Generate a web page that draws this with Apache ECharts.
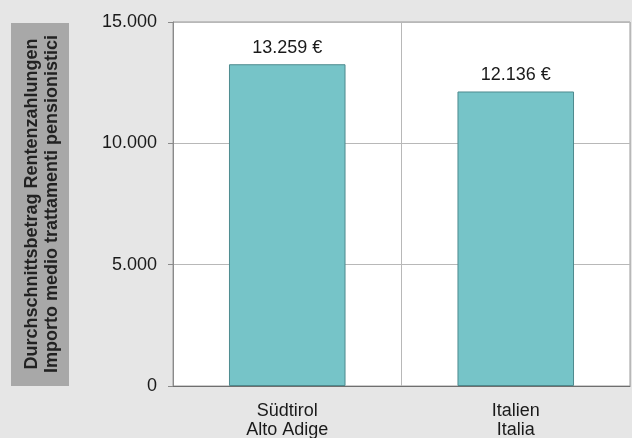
<!DOCTYPE html>
<html><head><meta charset="utf-8">
<script src="https://cdn.jsdelivr.net/npm/echarts@6/dist/echarts.min.js"></script>
<style>html,body{margin:0;padding:0;background:#e6e6e6}#c{width:632px;height:438px}</style>
</head><body><div id="c"></div>
<script>
const categories = ['Südtirol\nAlto Adige', 'Italien\nItalia'];
const values = [13259, 12136];
const yTicks = [0, 5000, 10000, 15000];
const axisTitleLines = ['Durchschnittsbetrag Rentenzahlungen', 'Importo medio trattamenti pensionistici'];

function fmt(v){ return String(v).replace(/\B(?=(\d{3})+(?!\d))/g, '.'); }

const chart = echarts.init(document.getElementById('c'));
chart.setOption({
  backgroundColor: '#e6e6e6',
  textStyle: { fontFamily: 'Liberation Sans, Arial, sans-serif' },
  grid: { left: 173, right: 2, top: 22, bottom: 52, outerBoundsMode: 'none', containLabel: false, show: true, backgroundColor: '#ffffff', borderColor: '#9a9a9a', borderWidth: 1 },
  xAxis: {
    type: 'category', data: categories,
    axisLine: { lineStyle: { color: '#6f6f6f' } },
    axisTick: { show: false },
    splitLine: { show: true, lineStyle: { color: '#b8b8b8' } },
    axisLabel: { fontSize: 18, color: '#1a1a1a', lineHeight: 19, margin: 16 }
  },
  yAxis: {
    type: 'value', min: yTicks[0], max: yTicks[yTicks.length-1], interval: yTicks[1]-yTicks[0],
    axisLine: { show: true, lineStyle: { color: '#8a8a8a' } },
    axisTick: { show: true, length: 5, lineStyle: { color: '#8a8a8a' } },
    splitLine: { lineStyle: { color: '#b8b8b8' } },
    axisLabel: { fontSize: 18, color: '#1a1a1a', margin: 16, formatter: fmt }
  },
  graphic: [
    { type: 'rect', left: 11, top: 23, shape: { width: 58, height: 363 }, style: { fill: '#a8a8a8' }, z: -1 },
    { type: 'text', x: 32, y: 204, rotation: Math.PI/2, style: { text: axisTitleLines[0], fill: '#222', font: 'bold 18px Liberation Sans, Arial, sans-serif', align: 'center', verticalAlign: 'middle' } },
    { type: 'text', x: 52, y: 204, rotation: Math.PI/2, style: { text: axisTitleLines[1], fill: '#222', font: 'bold 18px Liberation Sans, Arial, sans-serif', align: 'center', verticalAlign: 'middle' } }
  ],
  series: [{
    type: 'bar', data: values, barWidth: '51%',
    itemStyle: { color: '#76c4c8', borderColor: '#4e8a8e', borderWidth: 1 },
    label: { show: true, position: 'top', distance: 7, fontSize: 18, color: '#1a1a1a', formatter: p => fmt(p.value) + ' €' }
  }]
});
</script></body></html>
